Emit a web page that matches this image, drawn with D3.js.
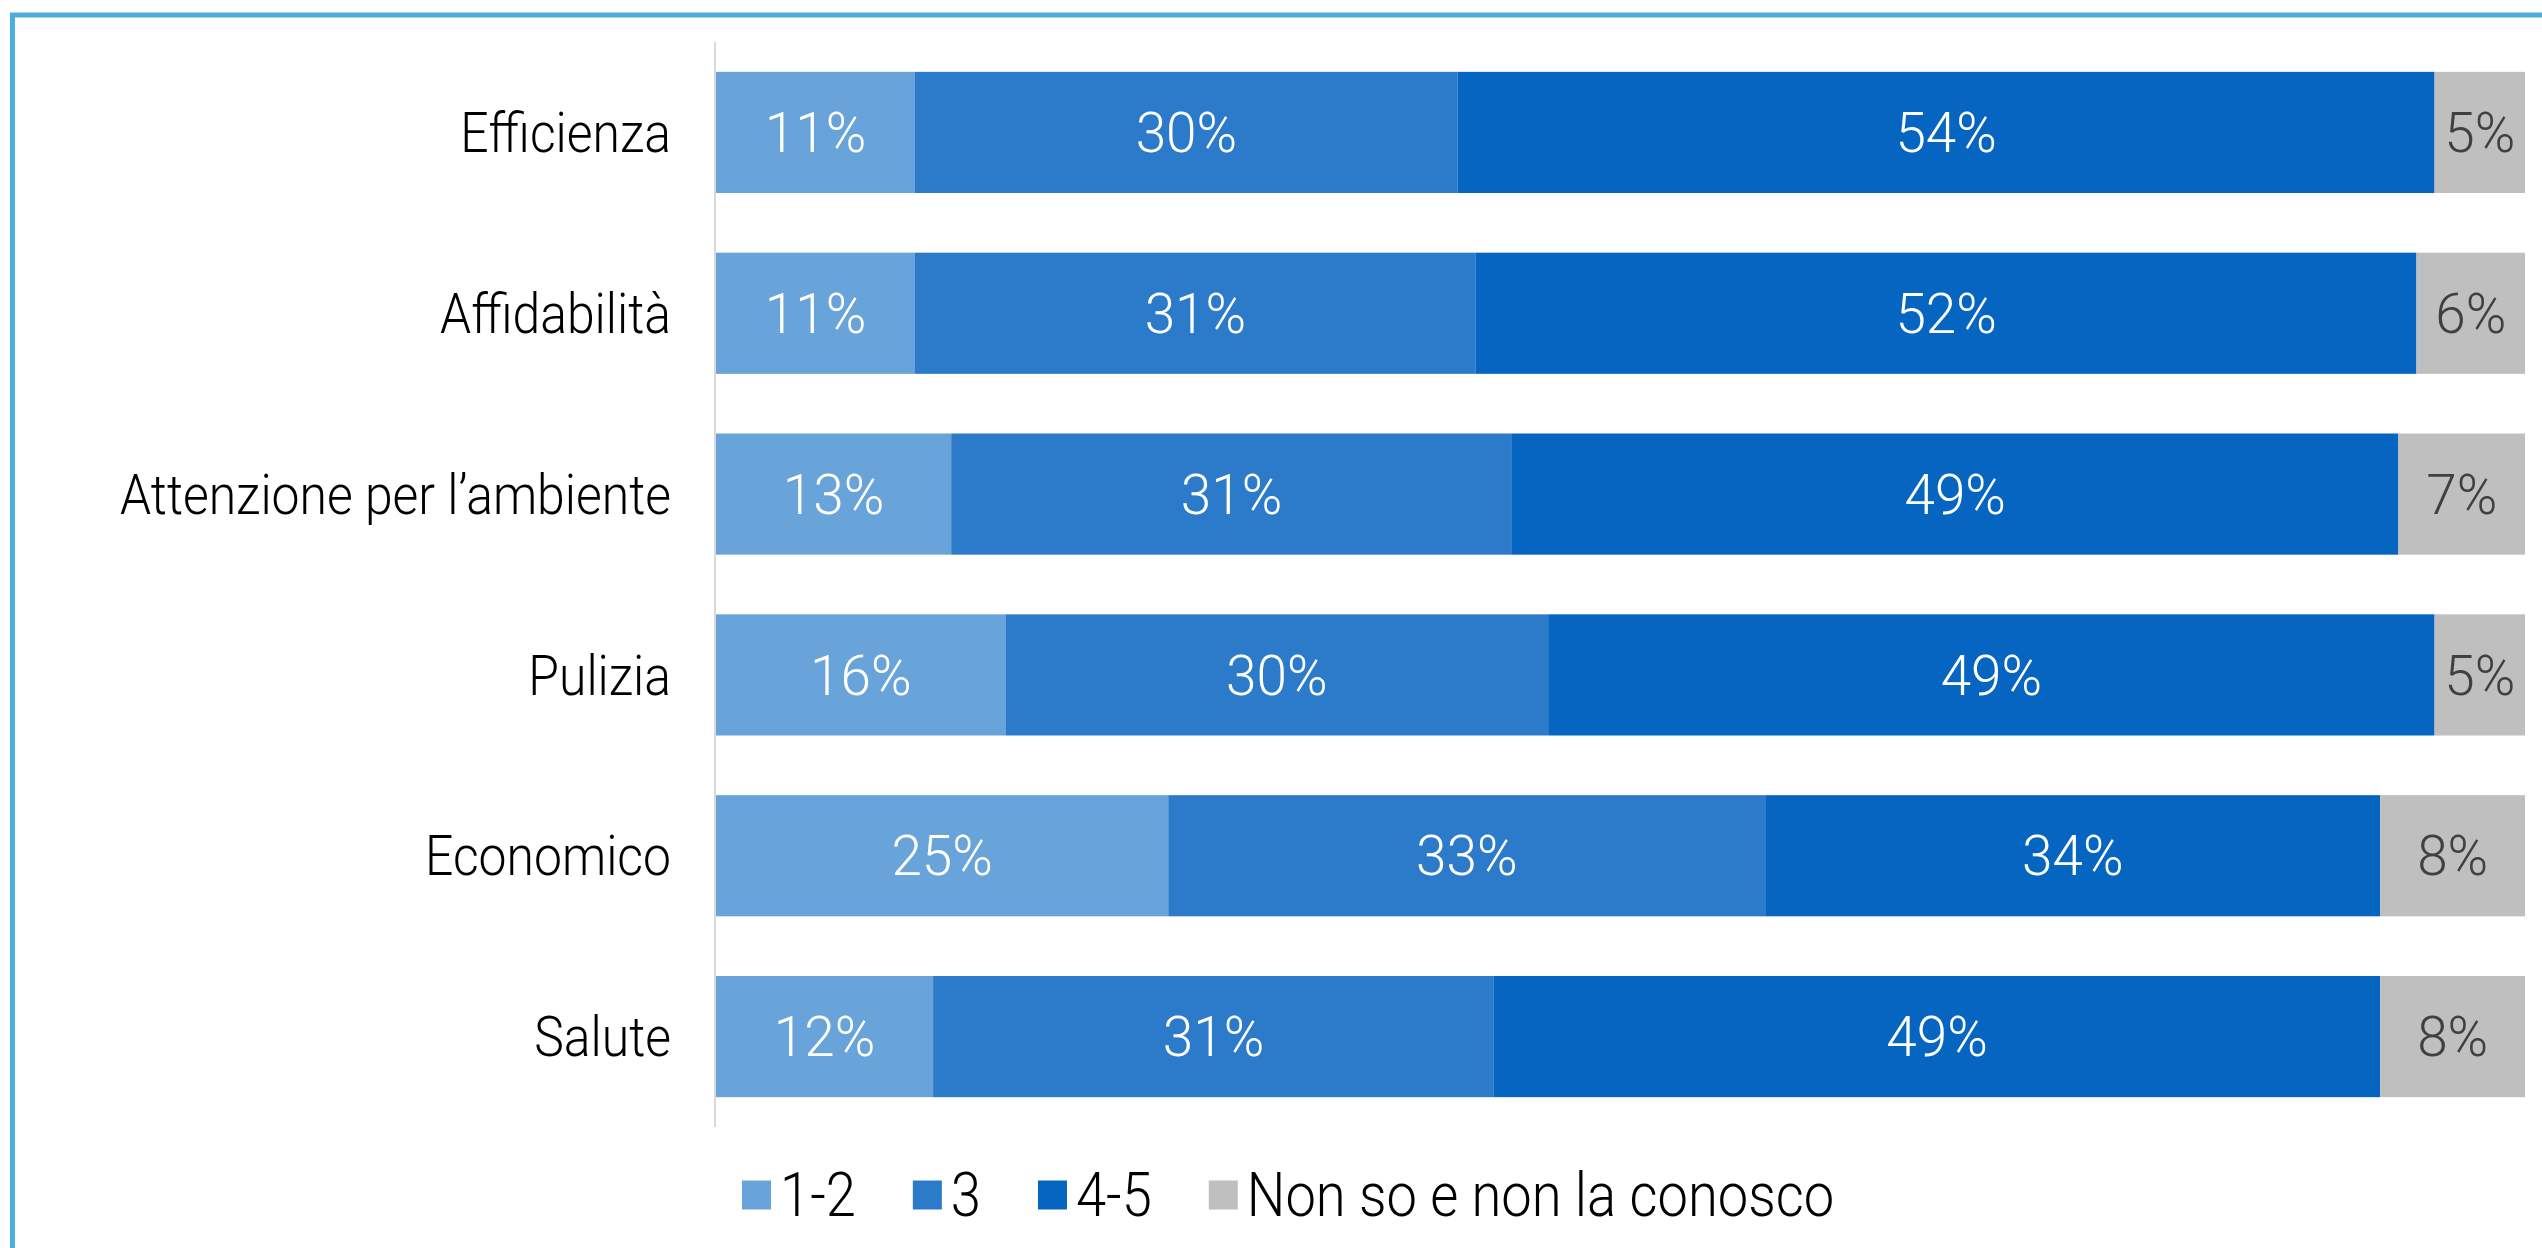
<!DOCTYPE html>
<html>
<head>
    <meta charset="utf-8">
    <script src="https://cdnjs.cloudflare.com/ajax/libs/d3/7.8.5/d3.min.js"></script>
    <style>
        body {
            margin: 0;
            background-color: #fff;
        }
        text {
            font-family: Roboto, 'Open Sans', sans-serif;
            font-weight: 300;
        }
    </style>
</head>
<body>
    <svg width="2542" height="1248"></svg>
    <script>
        // data
        var categories = ["Efficienza", "Affidabilità", "Attenzione per l’ambiente", "Pulizia", "Economico", "Salute"];
        var seriesNames = ["1-2", "3", "4-5", "Non so e non la conosco"];
        var v12 = [11, 11, 13, 16, 25, 12];
        var v3 = [30, 31, 31, 30, 33, 31];
        var v45 = [54, 52, 49, 49, 34, 49];
        var vNon = [5, 6, 7, 5, 8, 8];

        var colors = ["#68a3d9", "#2b7bca", "#0565c0", "#bfbfbf"];
        var labelColors = ["#fff", "#fff", "#fff", "#404040"];

        var rows = categories.map(function(c, i) {
            return {cat: c, "1-2": v12[i], "3": v3[i], "4-5": v45[i], "Non so e non la conosco": vNon[i]};
        });

        var svg = d3.select("svg"),
            fontSize = 56,
            legendSize = 61,
            squeeze = 1;

        // frame (only top and left edges are visible)
        svg.append("rect")
            .attr("x", 12.5).attr("y", 15)
            .attr("width", 2600).attr("height", 1400)
            .attr("fill", "none")
            .attr("stroke", "#4aaede")
            .attr("stroke-width", 5);

        var x = d3.scaleLinear().domain([0, 100]).range([716, 2525]);
        var y = d3.scaleBand().domain(categories).range([42, 1127])
            .paddingInner(0.33).paddingOuter(0.165);

        // condensed look: measure the longest label and squeeze text to fit
        var probe = svg.append("text").style("font-size", fontSize + "px").text(categories[2]);
        squeeze = 551 / probe.node().getComputedTextLength();
        probe.remove();

        function sq(tx, ty, k) {
            return "translate(" + tx + "," + ty + ") scale(" + (k || squeeze) + ",1)";
        }

        var stack = d3.stack().keys(seriesNames)(rows);

        var layers = svg.append("g").selectAll("g")
            .data(stack)
            .enter().append("g")
            .attr("fill", function(d, i) { return colors[i]; });

        layers.selectAll("rect")
            .data(function(d) { return d; })
            .enter().append("rect")
            .attr("x", function(d) { return x(d[0]); })
            .attr("y", function(d) { return y(d.data.cat); })
            .attr("width", function(d) { return x(d[1]) - x(d[0]); })
            .attr("height", y.bandwidth());

        // value labels (digits are wider in the original, so less squeeze)
        stack.forEach(function(layer, li) {
            svg.append("g").selectAll("text")
                .data(layer)
                .enter().append("text")
                .attr("transform", function(d) {
                    return sq((x(d[0]) + x(d[1])) / 2, y(d.data.cat) + y.bandwidth() / 2, 0.98);
                })
                .attr("text-anchor", "middle")
                .attr("dy", "0.35em")
                .style("font-size", fontSize + "px")
                .style("fill", labelColors[li])
                .text(function(d) { return (d[1] - d[0]) + "%"; });
        });

        // y axis line
        svg.append("line")
            .attr("x1", x(0) - 1).attr("x2", x(0) - 1)
            .attr("y1", y.range()[0]).attr("y2", y.range()[1])
            .attr("stroke", "#d9d9d9")
            .attr("stroke-width", 2);

        // category labels
        svg.append("g").selectAll("text")
            .data(categories)
            .enter().append("text")
            .attr("transform", function(d) { return sq(x(0) - 45, y(d) + y.bandwidth() / 2); })
            .attr("text-anchor", "end")
            .attr("dy", "0.35em")
            .style("font-size", fontSize + "px")
            .style("fill", "#000")
            .text(function(d) { return d; });

        // legend
        var legend = svg.append("g"),
            lx = 742,
            ly = 1195,
            box = 29;
        seriesNames.forEach(function(name, i) {
            legend.append("rect")
                .attr("x", lx).attr("y", ly - box / 2)
                .attr("width", box).attr("height", box)
                .attr("fill", colors[i]);
            var t = legend.append("text")
                .attr("transform", sq(lx + box + 9, ly))
                .attr("dy", "0.35em")
                .style("font-size", legendSize + "px")
                .style("fill", "#000")
                .text(name);
            lx += box + 9 + t.node().getComputedTextLength() * squeeze + 57;
        });
    </script>
</body>
</html>
